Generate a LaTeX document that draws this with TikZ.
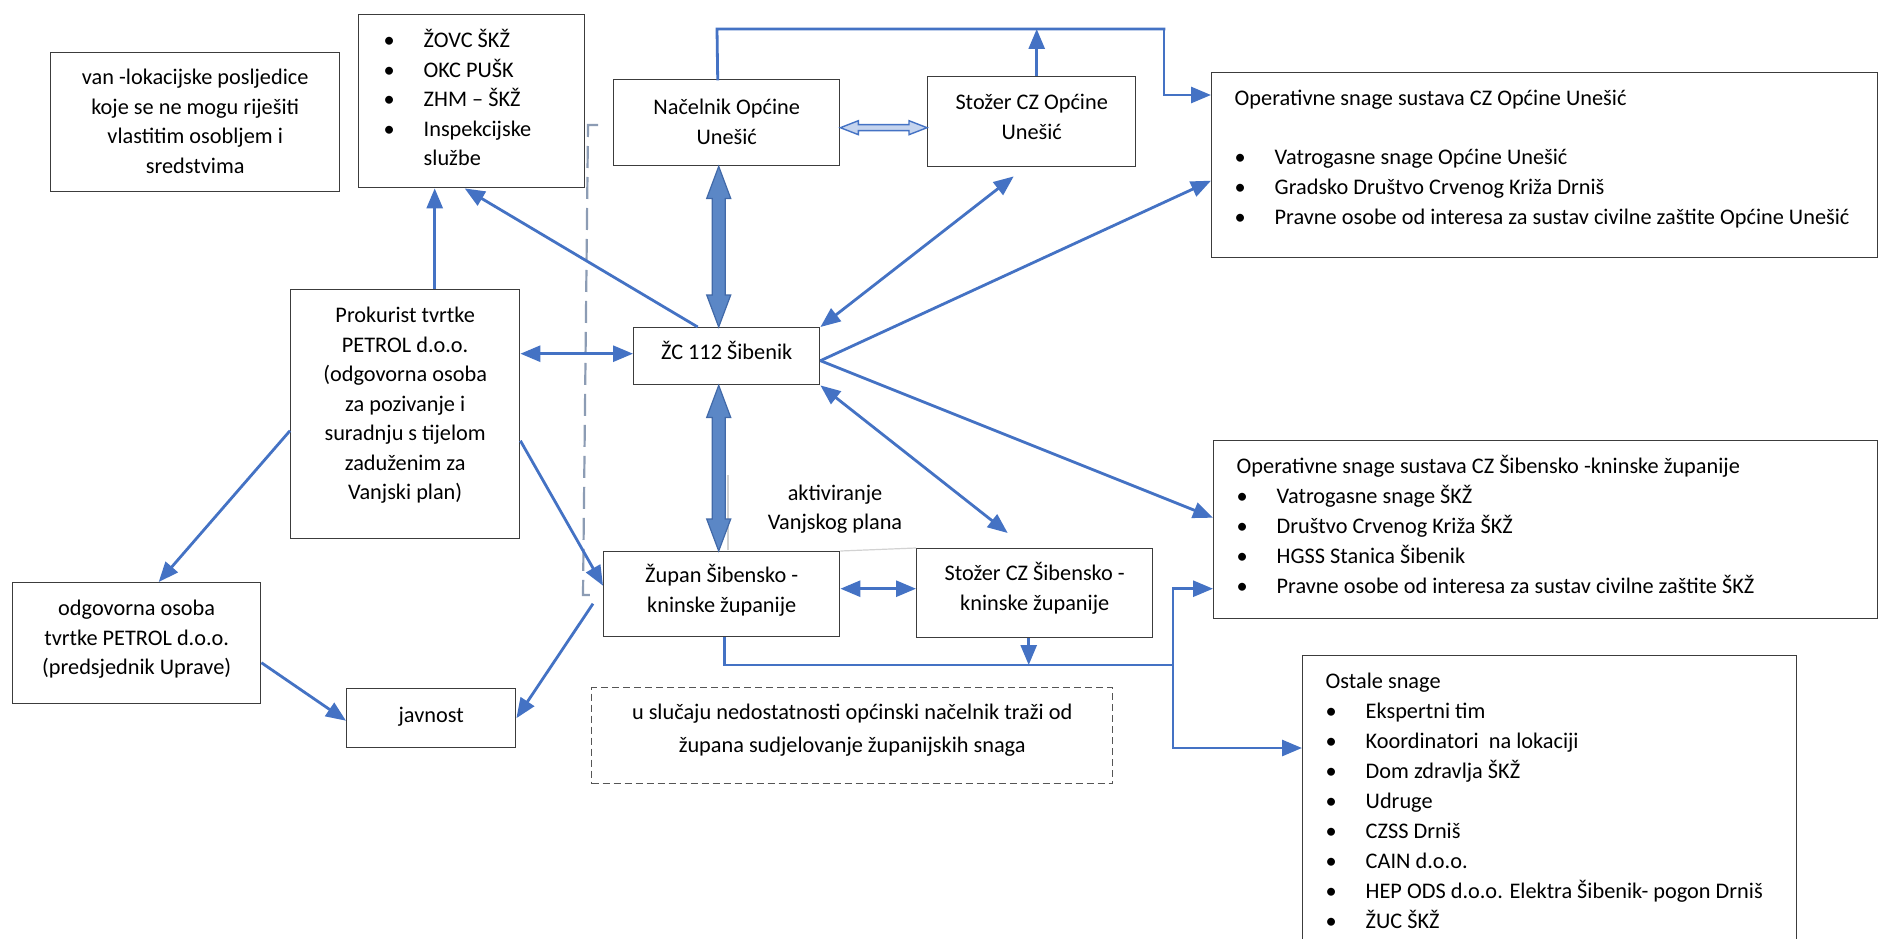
\documentclass[tikz,border=0pt]{standalone}
\usepackage{fontspec}
\setmainfont{Carlito}
\usetikzlibrary{arrows.meta,calc}
\definecolor{arrowblue}{HTML}{4472C4}
\definecolor{blockfill}{HTML}{5B87C6}
\definecolor{blockline}{HTML}{4169A8}
\definecolor{hollowfill}{HTML}{C5D4EE}
\definecolor{boxline}{HTML}{3C3C3C}
\definecolor{dashgray}{HTML}{8C9CB4}
\definecolor{notedash}{HTML}{555555}
\definecolor{faintgray}{HTML}{D2D2D2}
\newcommand\fs{\fontsize{22.3pt}{29.5pt}\selectfont}
\newcommand\fsl{\fontsize{22.3pt}{30pt}\selectfont}
\newcommand\bul{\makebox[40pt][l]{•}}
\newcommand\cbx[4]{\parbox[c][#2][t]{#1}{\centering\vspace*{#3}\strut#4\par}}
\newcommand\lbx[5]{\parbox[c][#2][t]{#1}{\raggedright\leftskip=#4\relax\vspace*{#3}\strut#5\par}}
\newcommand\vblock[2]{%
  \path[blockarrow] let \p1=(#1), \p2=(#2) in
  (\x1,\y1) -- (\x1+12pt,\y1-32pt) -- (\x1+6.5pt,\y1-32pt) -- (\x1+6.5pt,\y2+32pt)
  -- (\x1+12pt,\y2+32pt) -- (\x1,\y2) -- (\x1-12pt,\y2+32pt) -- (\x1-6.5pt,\y2+32pt)
  -- (\x1-6.5pt,\y1-32pt) -- (\x1-12pt,\y1-32pt) -- cycle;}
\newcommand\hblock[2]{%
  \path[hollowarrow] let \p1=(#1), \p2=(#2) in
  (\x1,\y1) -- (\x1+18pt,\y1+7pt) -- (\x1+18pt,\y1+3pt) -- (\x2-18pt,\y1+3pt)
  -- (\x2-18pt,\y1+7pt) -- (\x2,\y1) -- (\x2-18pt,\y1-7pt) -- (\x2-18pt,\y1-3pt)
  -- (\x1+18pt,\y1-3pt) -- (\x1+18pt,\y1-7pt) -- cycle;}
\tikzset{
  box/.style={draw=boxline, line width=1.4pt, fill=white, inner sep=0pt, anchor=north west, font=\fs},
  lbox/.style={box, font=\fsl},
  notebox/.style={draw=notedash, line width=1.4pt, dash pattern=on 7pt off 4pt, fill=white, inner sep=0pt, anchor=north west, font=\fs},
  line/.style={draw=arrowblue, line width=2.8pt},
  tip/.tip={Triangle[length=20pt,width=16pt]},
  arr/.style={line, -tip},
  dbl/.style={line, tip-tip},
  blockarrow/.style={fill=blockfill, draw=blockline, line width=1.2pt},
  hollowarrow/.style={fill=hollowfill, draw=arrowblue, line width=1.4pt},
  dashline/.style={draw=dashgray, line width=2.2pt, dash pattern=on 22pt off 9pt},
  faint/.style={draw=faintgray, line width=1.2pt},
}
\begin{document}
\begin{tikzpicture}[x=1pt,y=-1pt]
\useasboundingbox[fill=white] (0,0) rectangle (1881,939);

% boxes
\node[box] (van) at (50,52) {\cbx{289pt}{139pt}{11.35pt}{van -lokacijske posljedice\\koje se ne mogu riješiti\\vlastitim osobljem i\\sredstvima}};
\node[box] (zovc) at (358,14) {\lbx{226pt}{173pt}{12.35pt}{25pt}{\bul ŽOVC ŠKŽ\\\bul OKC PUŠK\\\bul ZHM – ŠKŽ\\\bul Inspekcijske\\\hspace*{40pt}službe}};
\node[box] (nac) at (613,79) {\cbx{226pt}{86pt}{14.35pt}{Načelnik Općine\\Unešić}};
\node[box] (szo) at (927,76) {\cbx{208pt}{90pt}{12.35pt}{Stožer CZ Općine\\Unešić}};
\node[lbox] (opu) at (1211,72) {\lbx{666pt}{185pt}{11.35pt}{23pt}{Operativne snage sustava CZ Općine Unešić\\[29pt]\bul Vatrogasne snage Općine Unešić\\\bul Gradsko Društvo Crvenog Križa Drniš\\\bul Pravne osobe od interesa za sustav civilne zaštite Općine Unešić}};
\node[box] (prok) at (290,289) {\cbx{229pt}{249pt}{12.35pt}{Prokurist tvrtke\\PETROL d.o.o.\\(odgovorna osoba\\za pozivanje i\\suradnju s tijelom\\zaduženim za\\Vanjski plan)}};
\node[box] (zc) at (633,327) {\cbx{186pt}{57pt}{11.35pt}{ŽC 112 Šibenik}};
\node[box] (zup) at (603,551) {\cbx{236pt}{85pt}{10.35pt}{Župan Šibensko -\\kninske županije}};
\node[box] (szs) at (916,548) {\cbx{236pt}{89pt}{11.35pt}{Stožer CZ Šibensko -\\kninske županije}};
\node[lbox] (ops) at (1213,440) {\lbx{664pt}{178pt}{11.35pt}{23pt}{Operativne snage sustava CZ Šibensko -kninske županije\\\bul Vatrogasne snage ŠKŽ\\\bul Društvo Crvenog Križa ŠKŽ\\\bul HGSS Stanica Šibenik\\\bul Pravne osobe od interesa za sustav civilne zaštite ŠKŽ}};
\node[lbox] (ost) at (1302,655) {\lbx{494pt}{300pt}{11.35pt}{23pt}{Ostale snage\\\bul Ekspertni tim\\\bul Koordinatori\ \ na lokaciji\\\bul Dom zdravlja ŠKŽ\\\bul Udruge\\\bul CZSS Drniš\\\bul CAIN d.o.o.\\\bul HEP ODS d.o.o. Elektra Šibenik- pogon Drniš\\\bul ŽUC ŠKŽ}};
\node[box] (odg) at (12,582) {\cbx{248pt}{121pt}{12.35pt}{odgovorna osoba\\tvrtke PETROL d.o.o.\\(predsjednik Uprave)}};
\node[box] (jav) at (346,688) {\cbx{169pt}{59pt}{13.35pt}{javnost}};
\node[notebox] (note) at (591,687) {\cbx{521pt}{96pt}{11.35pt}{u slučaju nedostatnosti općinski načelnik traži od\\[3.5pt]župana sudjelovanje županijskih snaga}};

% faint outline of the label box and label
\draw[faint] (728,475) -- (728,550);
\draw[faint] (zup.north east) -- (szs.north west);
\node[font=\fs, align=center, inner sep=0pt] (akt) at (835,509) {aktiviranje\\Vanjskog plana};

% dashed bracket
\draw[dashline] (598,125) -- (588,125) -- (583,595) -- (593,595);

% coordinates
\coordinate (busA) at (717,29);
\coordinate (busB) at (1164,29);
\coordinate (jn) at (1173,665);
\coordinate (zcw) at ([yshift=2.5pt]zc.west);
\coordinate (zupe) at ([yshift=5.5pt]zup.east);

% connectors
\draw[line, line cap=rect] ([xshift=-9pt]nac.north) -- (busA) -- (busB);
\draw[arr] (busB) |- ([yshift=-23pt]opu.north west);
\draw[arr] ([xshift=5pt]szo.north) -- ([xshift=5pt]szo.north |- busA);
\hblock{[yshift=-5pt]nac.east}{[yshift=-5pt]szo.west}
\vblock{[xshift=-8pt]nac.south}{zc.north}
\vblock{[xshift=-8pt]zc.south}{zup.north}
\draw[arr] ([xshift=-29pt]zc.north) -- ([xshift=-7pt]zovc.south);
\draw[arr] ([xshift=29.5pt]prok.north) -- ([xshift=29.5pt]prok.north |- zovc.south);
\draw[dbl] (prok.east |- zcw) -- (zcw);
\draw[arr] ([yshift=-16.5pt]prok.west) -- ([xshift=22pt]odg.north);
\draw[arr] ([yshift=-26.5pt]prok.east) -- ([yshift=8.5pt]zup.west);
\draw[arr] ([yshift=-19.5pt]odg.east) -- ([yshift=-2.5pt]jav.west);
\draw[arr] ([shift={(-10pt,-9.5pt)}]zup.west) -- (jav.east);
\draw[dbl] (zc.north east) -- ([shift={(-18pt,-9pt)}]szo.south);
\draw[arr] ([yshift=-4.5pt]zc.east) -- ([yshift=-15.5pt]opu.west);
\draw[arr] ([yshift=-4.5pt]zc.east) -- ([yshift=12pt]ops.west);
\draw[dbl] (zc.south east) -- ([shift={(-27pt,15pt)}]szs.north);
\draw[dbl] (zupe) -- (szs.west |- zupe);
\draw[line] ([xshift=3pt]zup.south) |- (jn);
\draw[arr] ([xshift=-6pt]szs.south) -- ([xshift=-6pt]szs.south |- jn);
\draw[arr] (jn) |- ([yshift=-59pt]ops.west);
\draw[arr] (jn) |- ([yshift=-93pt]ost.north west);
\end{tikzpicture}
\end{document}
